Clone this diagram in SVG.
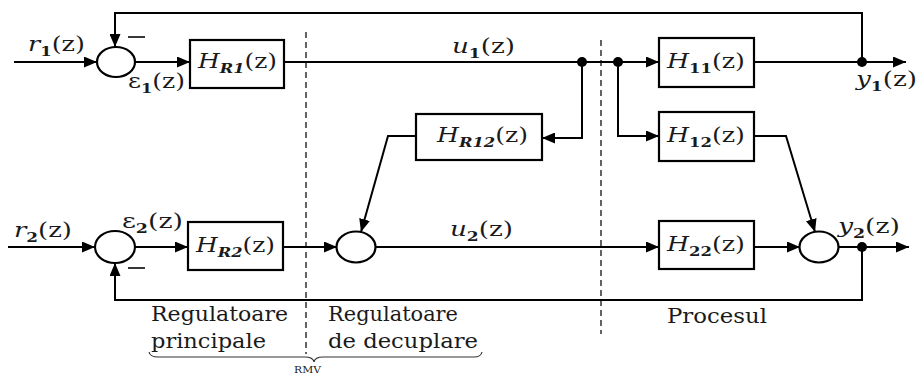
<svg xmlns="http://www.w3.org/2000/svg" width="919" height="377" viewBox="0 0 919 377">
<style>
.ln{fill:none;stroke:#000;stroke-width:2;}
.arr{marker-end:url(#ah);}
.box{fill:#fff;stroke:#000;stroke-width:2.2;}
.sum{fill:#fff;stroke:#000;stroke-width:2.2;}
.dash{fill:none;stroke:#222;stroke-width:1.4;stroke-dasharray:6 4;}
.dot{fill:#000;}
text{font-family:"DejaVu Serif","Liberation Serif",serif;fill:#1a1a1a;}
.m{font-size:20px;}
.it{font-style:italic;}
.sub{font-size:13px;font-weight:bold;font-style:italic;}
.subr{font-size:13px;font-weight:bold;}
.lbl{font-size:19.5px;}
.sm{font-size:10px;}
</style>
<defs>
<marker id="ah" markerUnits="userSpaceOnUse" markerWidth="13" markerHeight="11" refX="13" refY="5.5" orient="auto">
<path d="M0,0 L13,5.5 L0,11 z" fill="#000"/>
</marker>
</defs>

<g id="dividers">
<line class="dash" x1="306" y1="32" x2="306" y2="354"/>
<line class="dash" x1="601" y1="40" x2="601" y2="334"/>
</g>

<g id="connectors">
<path class="ln arr" d="M14,62 H97"/>
<path class="ln arr" d="M862,62 V13 H115 V47"/>
<path class="ln arr" d="M135,62 H190"/>
<path class="ln arr" d="M284,62 H659"/>
<path class="ln arr" d="M582,62 V138 H542"/>
<path class="ln arr" d="M618,62 V136 H659"/>
<path class="ln arr" d="M754,62 H906"/>
<path class="ln arr" d="M416,136 H388 L361,232"/>
<path class="ln arr" d="M754,136 H786 L815,232"/>
<path class="ln arr" d="M8,247 H95"/>
<path class="ln arr" d="M135,247 H188"/>
<path class="ln arr" d="M283,247 H337"/>
<path class="ln arr" d="M376,247 H659"/>
<path class="ln arr" d="M754,247 H800"/>
<path class="ln arr" d="M839,247 H909"/>
<path class="ln arr" d="M862,247 V300 H115 V263"/>
<circle class="dot" cx="582" cy="62" r="5"/>
<circle class="dot" cx="618" cy="62" r="5"/>
<circle class="dot" cx="862" cy="62" r="5"/>
<circle class="dot" cx="862" cy="247" r="5"/>
</g>

<g id="sum1"><ellipse class="sum" cx="116" cy="62" rx="19" ry="15"/></g>
<g id="sum2"><ellipse class="sum" cx="115" cy="247" rx="20" ry="16"/></g>
<g id="sum3"><ellipse class="sum" cx="356" cy="247" rx="19.5" ry="15.5"/></g>
<g id="sum4"><ellipse class="sum" cx="819" cy="247" rx="19.5" ry="15.5"/></g>

<g id="HR1">
<rect class="box" x="190" y="40" width="94" height="48"/>
<text class="m" x="198" y="68" textLength="79" lengthAdjust="spacingAndGlyphs"><tspan class="it">H</tspan><tspan class="sub" dy="5">R1</tspan><tspan dy="-5">(z)</tspan></text>
</g>
<g id="HR2">
<rect class="box" x="188" y="222" width="95" height="48"/>
<text class="m" x="196" y="252" textLength="79" lengthAdjust="spacingAndGlyphs"><tspan class="it">H</tspan><tspan class="sub" dy="5">R2</tspan><tspan dy="-5">(z)</tspan></text>
</g>
<g id="HR12">
<rect class="box" x="416" y="114" width="126" height="46"/>
<text class="m" x="437" y="142" textLength="91" lengthAdjust="spacingAndGlyphs"><tspan class="it">H</tspan><tspan class="sub" dy="5">R12</tspan><tspan dy="-5">(z)</tspan></text>
</g>
<g id="H11">
<rect class="box" x="659" y="38" width="95" height="49"/>
<text class="m" x="667" y="68" textLength="78" lengthAdjust="spacingAndGlyphs"><tspan class="it">H</tspan><tspan class="subr" dy="5">11</tspan><tspan dy="-5">(z)</tspan></text>
</g>
<g id="H12">
<rect class="box" x="659" y="112" width="95" height="49"/>
<text class="m" x="667" y="142" textLength="78" lengthAdjust="spacingAndGlyphs"><tspan class="it">H</tspan><tspan class="subr" dy="5">12</tspan><tspan dy="-5">(z)</tspan></text>
</g>
<g id="H22">
<rect class="box" x="659" y="221" width="95" height="48"/>
<text class="m" x="667" y="251" textLength="78" lengthAdjust="spacingAndGlyphs"><tspan class="it">H</tspan><tspan class="subr" dy="5">22</tspan><tspan dy="-5">(z)</tspan></text>
</g>

<g id="signals">
<text class="m" x="28" y="51" textLength="57" lengthAdjust="spacingAndGlyphs"><tspan class="it">r</tspan><tspan class="subr" dy="5">1</tspan><tspan dy="-5">(z)</tspan></text>
<text class="m" x="128" y="88" textLength="57" lengthAdjust="spacingAndGlyphs">ε<tspan class="subr" dy="5">1</tspan><tspan dy="-5">(z)</tspan></text>
<text class="m" x="452" y="53" textLength="63" lengthAdjust="spacingAndGlyphs"><tspan class="it">u</tspan><tspan class="subr" dy="5">1</tspan><tspan dy="-5">(z)</tspan></text>
<text class="m" x="856" y="86" textLength="61" lengthAdjust="spacingAndGlyphs"><tspan class="it">y</tspan><tspan class="subr" dy="5">1</tspan><tspan dy="-5">(z)</tspan></text>
<text class="m" x="14" y="237" textLength="58" lengthAdjust="spacingAndGlyphs"><tspan class="it">r</tspan><tspan class="subr" dy="5">2</tspan><tspan dy="-5">(z)</tspan></text>
<text class="m" x="122" y="228" textLength="61" lengthAdjust="spacingAndGlyphs">ε<tspan class="subr" dy="5">2</tspan><tspan dy="-5">(z)</tspan></text>
<text class="m" x="450" y="236" textLength="63" lengthAdjust="spacingAndGlyphs"><tspan class="it">u</tspan><tspan class="subr" dy="5">2</tspan><tspan dy="-5">(z)</tspan></text>
<text class="m" x="838" y="233" textLength="62" lengthAdjust="spacingAndGlyphs"><tspan class="it">y</tspan><tspan class="subr" dy="5">2</tspan><tspan dy="-5">(z)</tspan></text>
<line x1="128" y1="37" x2="145" y2="37" stroke="#222" stroke-width="1.8"/>
<line x1="128" y1="268" x2="145" y2="268" stroke="#222" stroke-width="1.8"/>
</g>

<g id="regions">
<text class="lbl" x="151" y="321" textLength="137" lengthAdjust="spacingAndGlyphs">Regulatoare</text>
<text class="lbl" x="151" y="348" textLength="115" lengthAdjust="spacingAndGlyphs">principale</text>
<text class="lbl" x="328" y="321" textLength="130" lengthAdjust="spacingAndGlyphs">Regulatoare</text>
<text class="lbl" x="328" y="348" textLength="150" lengthAdjust="spacingAndGlyphs">de decuplare</text>
<text class="lbl" x="667" y="323" textLength="100" lengthAdjust="spacingAndGlyphs">Procesul</text>
<path d="M149,352 Q150,357 158,357 H305 Q313,357 314,362 Q315,357 323,357 H474 Q481,357 482,352" fill="none" stroke="#333" stroke-width="1.2"/>
<text class="sm" x="294" y="373" textLength="27" lengthAdjust="spacingAndGlyphs">RMV</text>
</g>
</svg>
